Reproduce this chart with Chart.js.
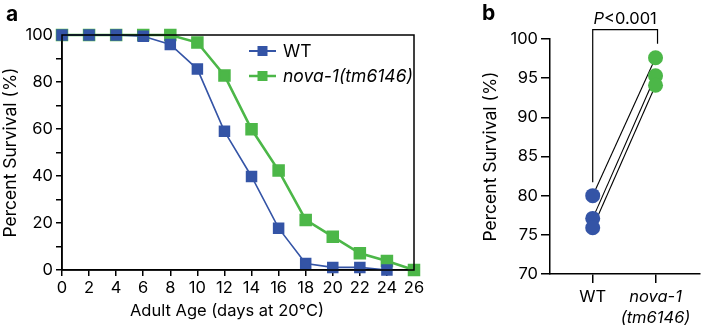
<!DOCTYPE html>
<html>
<head>
<meta charset="utf-8">
<script src="https://cdn.jsdelivr.net/npm/chart.js@4.4.0/dist/chart.umd.min.js"></script>
<style>
  html, body { margin: 0; padding: 0; background: #fff; }
  #wrap { position: relative; width: 707px; height: 329px; }
  #wrap canvas { position: absolute; left: 0; top: 0; }
  .tag { position: absolute; font: bold 21px Inter, 'Liberation Sans', Arial, sans-serif; color: #000; }
</style>
</head>
<body>
<div id="wrap">
  <canvas id="survA" width="707" height="329"></canvas>
  <canvas id="survB" width="707" height="329"></canvas>
  <div class="tag" style="left:6px;top:1px">a</div>
  <div class="tag" style="left:482px;top:0px">b</div>
</div>
<script>
// ---- data ----
const days = [0, 2, 4, 6, 8, 10, 12, 14, 16, 18, 20, 22, 24, 26];
const wtSurvival   = [100, 100, 100, 99.5, 96, 85.5, 59, 39.8, 17.8, 2.8, 1.1, 1.1, 0];
const novaSurvival = [100, 100, 100, 100, 100, 96.8, 82.8, 59.9, 42.3, 21.3, 14.2, 7.1, 3.8, 0];
const yTicksA = [0, 20, 40, 60, 80, 100];
const xTitleA = 'Adult Age (days at 20°C)';

const groups = ['WT', ['nova-1', '(tm6146)']];
const wtReplicates   = [80, 77.1, 75.9];
const novaReplicates = [97.6, 95.3, 94.1];
const pLabel = 'P<0.001';

// ---- style ----
const BLUE = '#3454a6';
const GREEN = '#4cb748';
const FONT = "Inter, 'Liberation Sans', Arial, Helvetica, sans-serif";
const FS = 16.5;

const $ = sel => document.querySelector(sel);
const pts = (xs, ys) => ys.map((y, i) => ({ x: xs[i], y }));

// box round the plot area of panel a, plus its x title (sits a bit left of centre)
const frame = {
  id: 'frame',
  afterDatasetsDraw(chart) {
    const a = chart.chartArea, ctx = chart.ctx;
    ctx.save();
    ctx.strokeStyle = '#000';
    ctx.lineWidth = 1.5;
    ctx.strokeRect(a.left, a.top, a.right - a.left, a.bottom - a.top);
    ctx.fillStyle = '#000';
    ctx.font = FS + 'px ' + FONT;
    ctx.textAlign = 'center';
    ctx.textBaseline = 'middle';
    ctx.fillText(xTitleA, 227, 311);
    ctx.restore();
  }
};

// legend with line + square, second name italic
const lineLegend = {
  id: 'lineLegend',
  afterDraw(chart) {
    const ctx = chart.ctx;
    const items = [
      { name: 'WT', color: BLUE, width: 2, y: 51, italic: false },
      { name: 'nova-1(tm6146)', color: GREEN, width: 2.5, y: 76, italic: true }
    ];
    ctx.save();
    items.forEach(it => {
      ctx.strokeStyle = it.color;
      ctx.lineWidth = it.width;
      ctx.beginPath();
      ctx.moveTo(249, it.y);
      ctx.lineTo(276, it.y);
      ctx.stroke();
      ctx.fillStyle = it.color;
      ctx.fillRect(257.5, it.y - 5, 10, 10);
      ctx.fillStyle = '#000';
      ctx.font = (it.italic ? 'italic ' : '') + '17.5px ' + FONT;
      ctx.textBaseline = 'middle';
      ctx.fillText(it.name, 283, it.y + 1);
    });
    ctx.restore();
  }
};

// Panel a: survival curves
new Chart($('#survA'), {
  type: 'line',
  data: {
    datasets: [
      { label: 'WT', data: pts(days, wtSurvival), borderColor: BLUE, backgroundColor: BLUE,
        borderWidth: 1.6, pointStyle: 'rect', pointRadius: 7, pointHoverRadius: 7, clip: false },
      { label: 'nova-1(tm6146)', data: pts(days, novaSurvival), borderColor: GREEN, backgroundColor: GREEN,
        borderWidth: 2.6, pointStyle: 'rect', pointRadius: 7, pointHoverRadius: 7, clip: false }
    ]
  },
  options: {
    responsive: false,
    animation: false,
    layout: { padding: { left: 0, top: 35, right: 293, bottom: 0 } },
    plugins: { legend: { display: false }, tooltip: { enabled: false } },
    scales: {
      x: {
        type: 'linear', min: 0, max: 26,
        afterFit: s => { s.height = 59; },
        ticks: { stepSize: 2, color: '#000', font: { family: FONT, size: FS }, padding: 2, maxRotation: 0 },
        grid: { drawOnChartArea: false, tickLength: 6, color: '#000', lineWidth: 1.5 },
        border: { color: '#000', width: 1.5 }
      },
      y: {
        min: 0, max: 100,
        afterFit: s => { s.width = 62; },
        afterBuildTicks: s => { s.ticks = [0, 10, 20, 30, 40, 50, 60, 70, 80, 90, 100].map(v => ({ value: v })); },
        ticks: { color: '#000', font: { family: FONT, size: FS }, padding: 3,
                 callback: v => yTicksA.includes(v) ? v : '' },
        grid: { drawOnChartArea: false, tickLength: 6, color: '#000', lineWidth: 1.5 },
        border: { color: '#000', width: 1.5 },
        title: { display: true, text: 'Percent Survival (%)', color: '#000',
                 font: { family: FONT, size: 17.5 }, padding: { top: 0, bottom: 0 } }
      }
    }
  },
  plugins: [frame, lineLegend]
});

// bracket + P value over panel b
const bracket = {
  id: 'bracket',
  afterDraw(chart) {
    const ctx = chart.ctx, x = chart.scales.x, y = chart.scales.y;
    const x0 = x.getPixelForValue(0), x1 = x.getPixelForValue(1);
    const yL = y.getPixelForValue(81.7), yTop = y.getPixelForValue(101.2), yR = y.getPixelForValue(99.4);
    ctx.save();
    ctx.strokeStyle = '#000';
    ctx.lineWidth = 1.2;
    ctx.beginPath();
    ctx.moveTo(x0, yL); ctx.lineTo(x0, yTop); ctx.lineTo(x1 + 2, yTop); ctx.lineTo(x1 + 2, yR);
    ctx.stroke();
    ctx.fillStyle = '#000';
    ctx.textBaseline = 'middle';
    ctx.font = 'italic ' + FS + 'px ' + FONT;
    const pw = ctx.measureText('P').width;
    ctx.font = FS + 'px ' + FONT;
    const rest = pLabel.slice(1);
    const total = pw + ctx.measureText(rest).width;
    const cx = (x0 + x1 + 2) / 2 - total / 2;
    ctx.font = 'italic ' + FS + 'px ' + FONT;
    ctx.fillText('P', cx, 19);
    ctx.font = FS + 'px ' + FONT;
    ctx.fillText(rest, cx + pw, 19);
    ctx.restore();
  }
};

const pairSets = wtReplicates.map((w, i) => ({
  data: [{ x: 0, y: w }, { x: 1, y: novaReplicates[i] }],
  borderColor: '#000', borderWidth: 1.1, pointRadius: 0, clip: false, order: 2
}));

// Panel b: paired replicates
new Chart($('#survB'), {
  type: 'line',
  data: {
    datasets: [
      ...pairSets,
      { data: wtReplicates.map(v => ({ x: 0, y: v })), showLine: false, pointRadius: 7.5, pointHoverRadius: 7.5,
        backgroundColor: BLUE, borderWidth: 0, clip: false, order: 1 },
      { data: novaReplicates.map(v => ({ x: 1, y: v })), showLine: false, pointRadius: 7.5, pointHoverRadius: 7.5,
        backgroundColor: GREEN, borderWidth: 0, clip: false, order: 1 }
    ]
  },
  options: {
    responsive: false,
    animation: false,
    layout: { padding: { left: 480, top: 39, right: 0, bottom: 0 } },
    plugins: { legend: { display: false }, tooltip: { enabled: false } },
    scales: {
      x: {
        type: 'linear', min: -0.68, max: 1.7,
        afterFit: s => { s.height = 55; },
        afterBuildTicks: s => { s.ticks = [{ value: 0 }, { value: 1 }]; },
        ticks: { color: '#000', padding: 4, maxRotation: 0, autoSkip: false,
                 callback: v => groups[v],
                 font: c => ({ family: FONT, size: FS, lineHeight: 1.25, style: c.index === 1 ? 'italic' : 'normal' }) },
        grid: { drawOnChartArea: false, tickLength: 9, color: '#000', lineWidth: 1.5 },
        border: { color: '#000', width: 1.5 }
      },
      y: {
        min: 70, max: 100,
        afterFit: s => { s.width = 70; },
        ticks: { stepSize: 5, color: '#000', font: { family: FONT, size: FS }, padding: 3 },
        grid: { drawOnChartArea: false, tickLength: 9, color: '#000', lineWidth: 1.5 },
        border: { color: '#000', width: 1.5 },
        title: { display: true, text: 'Percent Survival (%)', color: '#000',
                 font: { family: FONT, size: 17.5 }, padding: { top: 0, bottom: 0 } }
      }
    }
  },
  plugins: [bracket]
});
</script>
</body>
</html>
